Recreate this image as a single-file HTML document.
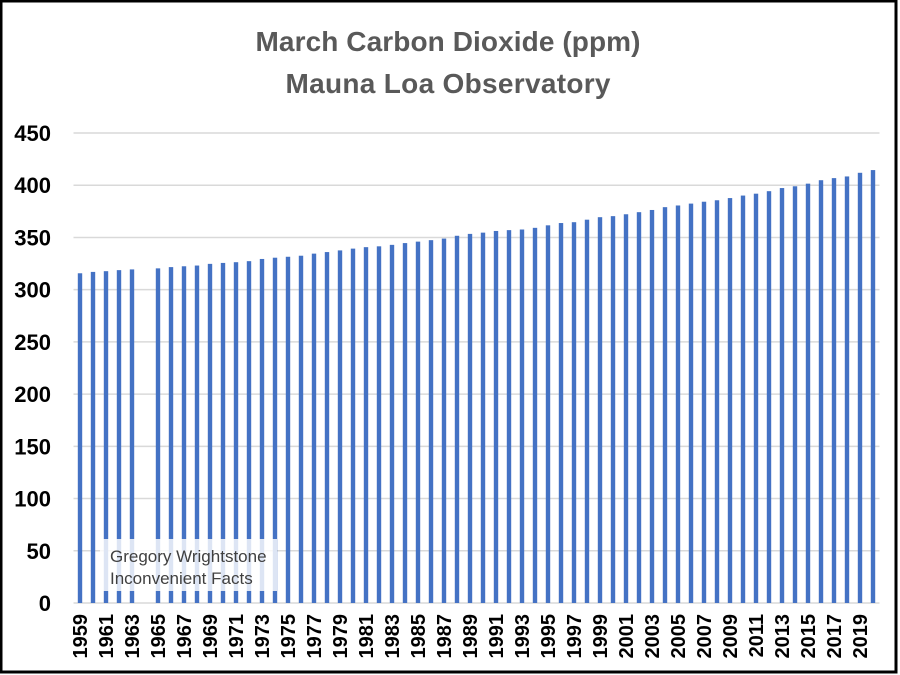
<!DOCTYPE html>
<html><head><meta charset="utf-8"><style>
body{margin:0;background:#fff}
svg{display:block;font-family:"Liberation Sans",Arial,sans-serif}
</style></head><body>
<svg id="c" width="900" height="675" viewBox="0 0 900 675">
<rect x="1" y="1" width="895" height="671" fill="#fff" stroke="#000" stroke-width="3"/>
<text x="448" y="51" text-anchor="middle" font-size="28" font-weight="bold" fill="#595959" textLength="385">March Carbon Dioxide (ppm)</text>
<text x="448" y="93" text-anchor="middle" font-size="28" font-weight="bold" fill="#595959" textLength="325">Mauna Loa Observatory</text>
<g id="grid"></g><g id="bars"></g><g id="ylab"></g><g id="xlab"></g>
<rect x="100" y="539" width="177" height="52" fill="#fff" fill-opacity="0.82"/>
<text x="110" y="562" font-size="17" fill="#404040">Gregory Wrightstone</text>
<text x="110" y="584" font-size="17" fill="#404040">Inconvenient Facts</text>
</svg>
<script>
const years=[];for(let y=1959;y<=2020;y++)years.push(y);
const values=[315.7,317.0,317.7,318.7,319.4,null,320.4,321.6,322.4,323.1,324.7,325.6,326.3,327.3,329.4,330.6,331.5,332.5,334.5,336.0,337.6,339.3,340.7,341.5,342.9,344.6,346.0,347.4,348.9,351.6,353.4,354.6,356.2,357.0,357.6,359.2,361.6,363.8,364.6,367.0,369.4,370.4,372.2,374.2,376.3,379.0,380.6,382.4,384.2,385.6,387.7,390.1,391.9,394.3,397.3,399.0,401.5,404.8,406.8,408.4,411.9,414.5];
const yTicks=[0,50,100,150,200,250,300,350,400,450];
const NS="http://www.w3.org/2000/svg";
const x0=73.5,step=13,y0=603,yMax=450,yTop=133;
const yS=v=>y0-(v/yMax)*(y0-yTop);
const xS=i=>x0+step*(i+0.5);
function mk(t,a,p){const e=document.createElementNS(NS,t);for(const k in a)e.setAttribute(k,a[k]);p.appendChild(e);return e;}
const G=document.getElementById('grid'),B=document.getElementById('bars'),YL=document.getElementById('ylab'),XL=document.getElementById('xlab');
yTicks.forEach(t=>{
 const l=mk('line',{x1:x0,x2:x0+step*years.length,y1:yS(t),y2:yS(t),stroke:'#d9d9d9','stroke-width':1.5},G);
 
 
 const tx=mk('text',{x:51,y:yS(t)+8,'text-anchor':'end','font-size':22,'font-weight':'bold',fill:'#000'},YL);
 tx.textContent=t;
 
 
});
values.forEach((v,i)=>{
 if(v==null)return;
 const r=mk('rect',{x:xS(i)-2.2,y:yS(v),width:4.4,height:y0-yS(v),fill:'#4472c4'},B);
 
 
});
years.forEach((y,i)=>{
 if(i%2)return;
 const tx=mk('text',{x:0,y:0,'text-anchor':'end','font-size':20,'font-weight':'bold',fill:'#000',transform:`translate(${xS(i)+7},614) rotate(-90)`},XL);
 tx.textContent=y;
 
 
});
</script>
</body></html>
